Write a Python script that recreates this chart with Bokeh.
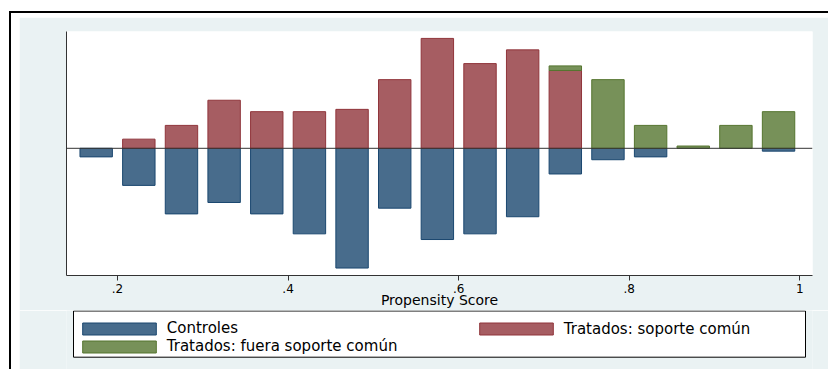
from bokeh.plotting import figure
from bokeh.layouts import column
from bokeh.models import (Range1d, FixedTicker, Span, BoxAnnotation, Legend,
                          LegendItem, ColumnDataSource)
from bokeh.embed import file_html
from bokeh.resources import INLINE

# ---- data (densities) ----
bin_centers = [0.175, 0.225, 0.275, 0.325, 0.375, 0.425, 0.475, 0.525, 0.575,
               0.625, 0.675, 0.725, 0.775, 0.825, 0.875, 0.925, 0.975]
treated_on = [0, 0.232, 0.580, 1.217, 0.928, 0.928, 0.986, 1.739, 2.783,
              2.145, 2.493, 1.971, 0, 0, 0, 0, 0]
treated_off = [0, 0, 0, 0, 0, 0, 0, 0, 0, 0, 0, 0.116, 1.739, 0.580, 0.058,
               0.580, 0.928]
controls = [-0.217, -0.939, -1.661, -1.372, -1.661, -2.166, -3.032, -1.516,
            -2.310, -2.166, -1.733, -0.650, -0.289, -0.217, 0, 0, -0.072]
tick_values = [0.2, 0.4, 0.6, 0.8, 1.0]
tick_labels = [".2", ".4", ".6", ".8", "1"]
labels = ["Controles", "Tratados: soporte común", "Tratados: fuera soporte común"]

# ---- styling ----
FONT = "DejaVu Sans"
BLUE, BLUE_L = "#486C8C", "#1A476F"
RED, RED_L = "#A65D62", "#90353B"
GREEN, GREEN_L = "#779159", "#55752F"
BG = "#EAF2F3"
BAR_W = 0.038
W = 809

# ================= main plot =================
p = figure(width=W, height=293, output_backend="svg", toolbar_location=None,
           x_range=Range1d(0.1402, 1.0148), y_range=Range1d(-3.221, 2.958),
           min_border_left=47, min_border_right=W - 793, min_border_top=14,
           min_border_bottom=34)
p.background_fill_color = "white"
p.border_fill_color = BG
p.outline_line_color = None
p.grid.visible = False

ctrl_src = ColumnDataSource(dict(
    x=[x for x, v in zip(bin_centers, controls) if v != 0],
    top=[0 for v in controls if v != 0],
    bottom=[v for v in controls if v != 0]))
on_src = ColumnDataSource(dict(
    x=[x for x, v in zip(bin_centers, treated_on) if v != 0],
    top=[v for v in treated_on if v != 0],
    bottom=[0 for v in treated_on if v != 0]))
off_src = ColumnDataSource(dict(
    x=[x for x, v in zip(bin_centers, treated_off) if v != 0],
    top=[a + v for a, v in zip(treated_on, treated_off) if v != 0],
    bottom=[a for a, v in zip(treated_on, treated_off) if v != 0]))

bar_styles = [dict(fill_color=BLUE, line_color=BLUE_L),
              dict(fill_color=RED, line_color=RED_L),
              dict(fill_color=GREEN, line_color=GREEN_L)]
for src, st in zip([ctrl_src, on_src, off_src], bar_styles):
    p.vbar(x="x", top="top", bottom="bottom", width=BAR_W, source=src,
           line_width=1, **st)

p.add_layout(Span(location=0, dimension="width", line_color="#333333",
                  line_width=1))

xa = p.xaxis[0]
xa.ticker = FixedTicker(ticks=tick_values)
xa.major_label_overrides = dict(zip(tick_values, tick_labels))
xa.minor_tick_line_color = None
xa.major_tick_in = 0
xa.major_tick_out = 5
xa.major_tick_line_color = "#333333"
xa.axis_line_color = "#333333"
xa.major_label_text_font = FONT
xa.major_label_text_font_size = "12px"
xa.major_label_text_color = "black"
xa.major_label_standoff = 3
xa.axis_label = "Propensity Score"
xa.axis_label_text_font = FONT
xa.axis_label_text_font_size = "14px"
xa.axis_label_text_font_style = "normal"
xa.axis_label_text_color = "black"
xa.axis_label_standoff = -4

ya = p.yaxis[0]
ya.ticker = FixedTicker(ticks=[])
ya.minor_tick_line_color = None
ya.major_tick_line_color = None
ya.axis_line_color = "#333333"

# ================= legend strip =================
LH = 59
lg = figure(width=W, height=LH, output_backend="svg", toolbar_location=None,
            x_axis_location=None, y_axis_location=None,
            x_range=Range1d(0, 1), y_range=Range1d(0, 1),
            min_border_left=0, min_border_right=0, min_border_top=0,
            min_border_bottom=0)
lg.background_fill_color = BG
lg.border_fill_color = BG
lg.outline_line_color = None
lg.grid.visible = False

lg.add_layout(BoxAnnotation(left=54, right=786, top=0.5, bottom=46.7,
                            left_units="canvas", right_units="canvas",
                            top_units="canvas", bottom_units="canvas",
                            fill_color="white", fill_alpha=1,
                            line_color="black", line_alpha=1, line_width=1,
                            level="underlay"))

# legend proxies (no visible marks of their own)
proxies = [lg.vbar(x="x", top="top", bottom="bottom", width=0.1,
                   source=ColumnDataSource(dict(x=[float("nan")],
                                                top=[float("nan")],
                                                bottom=[float("nan")])),
                   line_width=1, **st)
           for st in bar_styles]

common = dict(orientation="vertical", glyph_width=92, glyph_height=15,
              label_height=12, label_standoff=2, spacing=0, padding=0,
              margin=0, border_line_color=None, background_fill_alpha=0,
              label_text_font=FONT, label_text_font_size="15px",
              label_text_color="black")
legA = Legend(items=[LegendItem(label=labels[0], renderers=[proxies[0]]),
                     LegendItem(label=labels[2], renderers=[proxies[2]])],
              location=(6.75, 13.75), **common)
legB = Legend(items=[LegendItem(label=labels[1], renderers=[proxies[1]])],
              location=(403.75, 31.25), **common)
lg.add_layout(legA)
lg.add_layout(legB)

layout = column(p, lg, spacing=0, styles={
    "margin-left": "9px", "margin-top": "11px",
    "padding-left": "10px", "padding-top": "6px",
    "box-shadow": "inset 2px 2px 0 0 black",
    "background-color": "white"})

open("out.html", "w").write(file_html(layout, INLINE))
